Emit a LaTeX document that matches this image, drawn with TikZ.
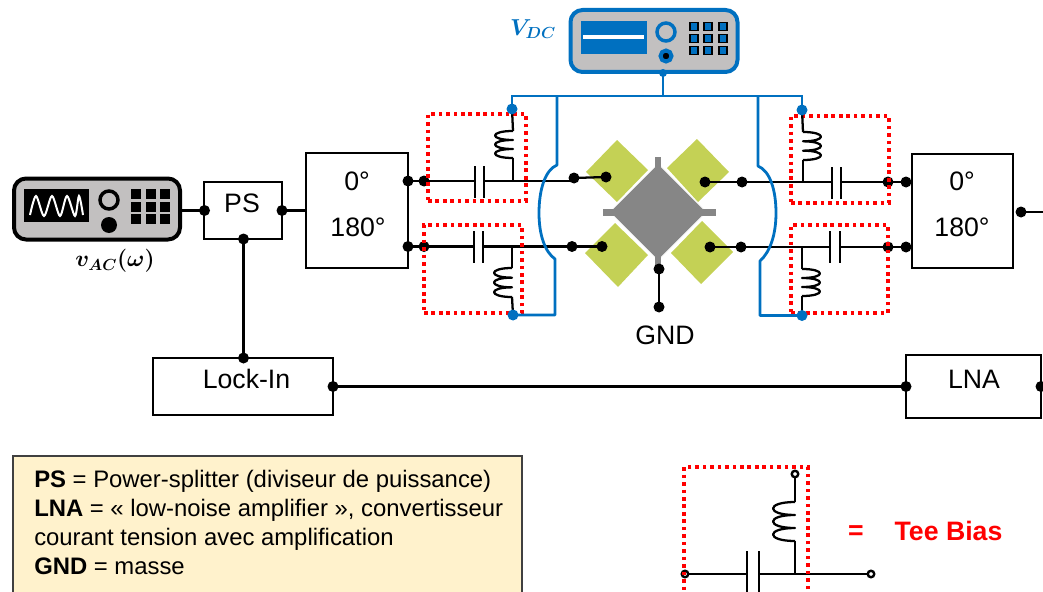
\documentclass[tikz,border=0pt]{standalone}
\usepackage{fontspec}
\setmainfont{Liberation Sans}
\newlength\pu
\setlength\pu{0.75pt}
\definecolor{vblue}{HTML}{0070C0}
\definecolor{devgray}{HTML}{C2C0C0}
\definecolor{chipgray}{HTML}{868686}
\definecolor{padgreen}{HTML}{C4D155}
\definecolor{legendfill}{HTML}{FFF2CC}
\tikzset{
  blackdot/.style={circle,fill=black,inner sep=0pt,minimum size=11\pu},
  bluedot/.style={circle,fill=vblue,inner sep=0pt,minimum size=11\pu},
  opendot/.style={circle,draw=black,fill=white,line width=1.8pt,inner sep=0pt,minimum size=6.5\pu},
  wire/.style={draw=black,line width=1.7pt},
  plate/.style={draw=black,line width=2.1pt},
  bluewire/.style={draw=vblue,line width=2.1pt},
  blockbox/.style={draw=black,line width=2pt,fill=white,inner sep=0pt},
  blocktext/.style={font=\fontsize{20}{20}\selectfont,inner sep=0pt},
  teebox/.style={draw=red,line width=2.7pt,dash pattern=on 2.7pt off 2.9pt,inner sep=0pt},
  pad/.style={fill=padgreen,draw=none},
}
\newcommand\coilshape[4]{% x, y top, signed width, height
  \begin{scope}[shift={(#1,#2)},xscale=#3,yscale=#4]
    \draw[wire,line join=round] (0,0) .. controls (1.33,0) and (1.33,.333) .. (0,.333)
      .. controls (1.33,.333) and (1.33,.667) .. (0,.667)
      .. controls (1.33,.667) and (1.33,1) .. (0,1);
  \end{scope}}
\begin{document}
\begin{tikzpicture}[x=0.75pt,y=-0.75pt]
\useasboundingbox (0,0) rectangle (1043,592);
\clip (0,0) rectangle (1043,592);

% chip
\fill[pad] (617,140) -- (648,170) -- (617,202) -- (586,172) -- cycle;
\fill[pad] (697,139) -- (729,172) -- (698,202) -- (667,168) -- cycle;
\fill[pad] (615,223) -- (648,255) -- (618,287) -- (585,253) -- cycle;
\fill[pad] (702,221) -- (733,252) -- (701,284) -- (671,253) -- cycle;
\filldraw[fill=chipgray,draw=white,line width=0.7pt] (658,163.5) -- (706.5,212) -- (658,260.5) -- (609.5,212) -- cycle;
\fill[chipgray] (655,157) rectangle (661,172);
\fill[chipgray] (655,252) rectangle (661,266);
\fill[chipgray] (603,209) rectangle (618,215.5);
\fill[chipgray] (698,209) rectangle (716,215.5);

% AC source
\node[draw=black,line width=3pt,fill=devgray,rounded corners=9pt,minimum width=166\pu,minimum height=61\pu,inner sep=0pt] (acsrc) at (97,209) {};
\fill[black] (24,189) rectangle (89,222);
\draw[white,line width=1.5pt] plot[smooth,tension=.5] coordinates {(30,215) (36,196) (44,216) (52,196) (60,216) (67,196) (75,216) (79,196) (83,215)};
\node[circle,draw=black,fill=devgray,line width=2.6pt,minimum size=18\pu,inner sep=0pt] (acknob) at (109,200) {};
\node[circle,fill=black,minimum size=16\pu,inner sep=0pt] (acjack) at (109,225) {};
\foreach \kx in {136,151,165} \foreach \ky in {194,207,218.5}
  \fill[black] (\kx-5,\ky-5) rectangle (\kx+5,\ky+5);

% DC source
\node[draw=vblue,line width=3pt,fill=devgray,rounded corners=9pt,minimum width=167\pu,minimum height=62\pu,inner sep=0pt] (dcsrc) at (654,41) {};
\fill[vblue] (581,21) rectangle (647,54);
\draw[white,line width=3pt] (583,37) -- (644,37);
\node[circle,draw=vblue,fill=devgray,line width=2.6pt,minimum size=18\pu,inner sep=0pt] (dcknob) at (666,32) {};
\node[circle,draw=vblue,fill=black,line width=3pt,minimum size=11\pu,inner sep=0pt] (dcjack) at (666,56) {};
\foreach \kx in {694,708,723} \foreach \ky in {26.5,38.5,50.5}
  \filldraw[fill=vblue,draw=black,line width=0.9pt] (\kx-4,\ky-3.8) rectangle (\kx+4,\ky+3.8);

% blocks
\node[blockbox,minimum width=78\pu,minimum height=57\pu] (ps) at (243,210.5) {};
\node[blockbox,minimum width=102\pu,minimum height=115\pu] (hybl) at (357,210.5) {};
\node[blockbox,minimum width=101\pu,minimum height=114\pu] (hybr) at (962.5,211) {};
\node[blockbox,minimum width=180\pu,minimum height=57\pu] (lock) at (243,386.5) {};
\node[blockbox,minimum width=135\pu,minimum height=63\pu] (lna) at (973.5,386.5) {};

% dots
\node[blackdot] (pin) at (204.5,210.5) {};
\node[blackdot] (pout) at (282,210.5) {};
\node[blackdot] (pbot) at (243.5,239) {};
\node[blackdot] (locktop) at (243.5,358) {};
\node[blackdot] (lockout) at (333,386.5) {};
\node[blackdot] (lnain) at (906,386.5) {};
\node[blackdot] (lnaout) at (1041,386.5) {};
\node[blackdot] (hlt) at (408,181) {};
\node[blackdot] (hlb) at (408,246.5) {};
\node[blackdot] (tlo) at (424,181) {};
\node[blackdot] (blo) at (424,246.5) {};
\node[blackdot] (tli) at (574,178) {};
\node[blackdot] (bli) at (572,246.5) {};
\node[blackdot] (tlp) at (606,177) {};
\node[blackdot] (blp) at (602,246.5) {};
\node[blackdot] (trp) at (705,182) {};
\node[blackdot] (brp) at (710,247) {};
\node[blackdot] (tri) at (742,182) {};
\node[blackdot] (bri) at (741,247) {};
\node[blackdot] (tro) at (888,182) {};
\node[blackdot] (bro) at (888,247) {};
\node[blackdot] (hrt) at (906,182) {};
\node[blackdot] (hrb) at (906,247) {};
\node[blackdot] (hrout) at (1021,212) {};
\node[blackdot] (gtop) at (659,269) {};
\node[blackdot] (gbot) at (659,307) {};
\coordinate (edge) at (1043,212);
\coordinate (acout) at (182,210.5);
\coordinate (hybin) at (306,210.5);

% main wires
\draw[wire] (acout) -- (pin.center);
\draw[wire] (pout.center) -- (hybin);
\draw[wire] (pbot.center) -- (locktop.center);
\draw[wire] (lockout.center) -- (lnain.center);
\draw[wire] (hrout.center) -- (edge);
\draw[wire] (gtop.center) -- (gbot.center);
\draw[wire] (hlt.center) -- (tlo.center);
\draw[wire] (hlb.center) -- (blo.center);
\draw[wire] (tro.center) -- (hrt.center);
\draw[wire] (bro.center) -- (hrb.center);
\draw[wire] (tli.center) -- (tlp.center);
\draw[wire] (bli.center) -- (blp.center);
\draw[wire] (trp.center) -- (tri.center);
\draw[wire] (brp.center) -- (bri.center);

% tee TL
\coordinate (tlc1) at (475,181); \coordinate (tlc2) at (484,181); \coordinate (tlj) at (513,181);
\draw[wire] (tlo.center) -- (tlc1);
\draw[wire] (tlc2) -- (tlj) -- (574,181);
\draw[plate] (475,166) -- (475,198);
\draw[plate] (484,166) -- (484,198);
\coordinate (tlu) at (513,131); \coordinate (tll) at (513,158);
\draw[wire] (tlj) -- (tll);
\coilshape{513}{131}{-18}{27}
% tee BL
\coordinate (blc1) at (474,246.5); \coordinate (blc2) at (483,246.5); \coordinate (blj) at (512,246.5);
\draw[wire] (blo.center) -- (blc1);
\draw[wire] (blc2) -- (blj) -- (bli.center);
\draw[plate] (474,231) -- (474,263);
\draw[plate] (483,231) -- (483,263);
\coordinate (blu) at (512,268); \coordinate (bll) at (512,297);
\draw[wire] (blj) -- (blu);
\coilshape{512}{268}{-18}{29}
% tee TR
\coordinate (trc1) at (832,182); \coordinate (trc2) at (841,182); \coordinate (trj) at (803,182);
\draw[wire] (tri.center) -- (trc1);
\draw[wire] (trc2) -- (tro.center);
\draw[plate] (832,167) -- (832,199);
\draw[plate] (841,167) -- (841,199);
\coordinate (tru) at (803,132); \coordinate (trl) at (803,160);
\draw[wire] (trj) -- (trl);
\coilshape{803}{132}{18}{28}
% tee BR
\coordinate (brc1) at (830,247); \coordinate (brc2) at (840,247); \coordinate (brj) at (802,247);
\draw[wire] (bri.center) -- (brc1);
\draw[wire] (brc2) -- (bro.center);
\draw[plate] (830,231) -- (830,263);
\draw[plate] (840,231) -- (840,263);
\coordinate (bru) at (802,269); \coordinate (brl) at (802,296);
\draw[wire] (brj) -- (bru);
\coilshape{802}{269}{18}{27}

% red tee-bias frames
\node[teebox,minimum width=98\pu,minimum height=87\pu] (teetl) at (477,157.5) {};
\node[teebox,minimum width=98\pu,minimum height=88\pu] (teebl) at (473,269) {};
\node[teebox,minimum width=98\pu,minimum height=87\pu] (teetr) at (840,159.5) {};
\node[teebox,minimum width=97\pu,minimum height=88\pu] (teebr) at (839.5,269) {};

% DC feed
\coordinate (btlc) at (512,109);
\coordinate (btrc) at (802,110);
\coordinate (bblc) at (513,315);
\coordinate (bbrc) at (802,315.5);
\draw[wire] (btlc) -- (tlu);
\draw[wire] (bblc) -- (bll);
\draw[wire] (btrc) -- (tru);
\draw[wire] (bbrc) -- (brl);
\node[bluedot] (btl) at (btlc) {};
\node[bluedot] (btr) at (btrc) {};
\node[bluedot] (bbl) at (bblc) {};
\node[bluedot] (bbr) at (bbrc) {};
\node[circle,fill=vblue,inner sep=0pt,minimum size=8\pu] (dcstem) at (663,73) {};
\coordinate (dcbus) at (663,96);
\draw[bluewire] (dcstem.center) -- (dcbus);
\draw[bluewire] (btl.center) |- (dcbus) -| (btr.center);
\draw[bluewire,line join=round] (557,96) -- (557,165) .. controls (545,170) and (539,190) .. (539,213)
   .. controls (539,235) and (545,252) .. (555,259) -- (555,315) -- (bbl.center);
\draw[bluewire,line join=round] (758,96) -- (758,166) .. controls (770,171) and (776,190) .. (776,213)
   .. controls (776,235) and (770,252) .. (760,261) -- (760,315.5) -- (bbr.center);

% labels
\node[blocktext] (t1) at (242,203) {PS};
\node[blocktext] (t2) at (357,181) {0°};
\node[blocktext] (t3) at (358,227) {180°};
\node[blocktext] (t4) at (962,181) {0°};
\node[blocktext] (t5) at (962,227) {180°};
\node[blocktext] (t6) at (246.5,379) {Lock-In};
\node[blocktext] (t7) at (974,379) {LNA};
\node[blocktext] (t8) at (665,335) {GND};
\node[inner sep=0pt,text=vblue,font=\fontsize{18}{18}\selectfont] (vdc) at (533,29) {{\boldmath$V_{DC}$}};
\node[inner sep=0pt,font=\fontsize{18.5}{18.5}\selectfont] (vac) at (115,261) {{\boldmath$v_{AC}(\omega)$}};

% legend
\node[draw=black!75,line width=0.9pt,fill=legendfill,minimum width=509\pu,minimum height=170\pu,inner sep=0pt] (legbox) at (267.5,541) {};
\node[anchor=north west,align=left,inner sep=0pt,font=\fontsize{17.9}{21.9}\selectfont] (legtext) at (34,469.8) {\textbf{PS} = Power-splitter (diviseur de puissance)\\
\textbf{LNA} = « low-noise amplifier », convertisseur\\
courant tension avec amplification\\
\textbf{GND} = masse};

% tee bias key
\node[opendot] (ka) at (685,574) {};
\node[opendot] (kb) at (871,574) {};
\node[opendot] (kc) at (795,474) {};
\coordinate (kc1) at (747,574); \coordinate (kc2) at (759,574); \coordinate (kj) at (795,574);
\coordinate (ku) at (795,502); \coordinate (kl) at (795,541);
\draw[wire] (ka) -- (kc1);
\draw[wire] (kc2) -- (kj) -- (kb);
\draw[plate] (747,551) -- (747,600);
\draw[plate] (759,551) -- (759,600);
\draw[wire] (kc) -- (ku);
\draw[wire] (kl) -- (kj);
\coilshape{795}{502}{-22}{39}
\node[teebox,minimum width=124\pu,minimum height=170\pu] (keybox) at (746,552) {};
\node[blocktext,text=red,font=\fontsize{20}{20}\bfseries\selectfont] (keyeq) at (856,533) {=};
\node[blocktext,text=red,font=\fontsize{20}{20}\bfseries\selectfont] (keytxt) at (948.5,531) {Tee Bias};
\end{tikzpicture}
\end{document}
